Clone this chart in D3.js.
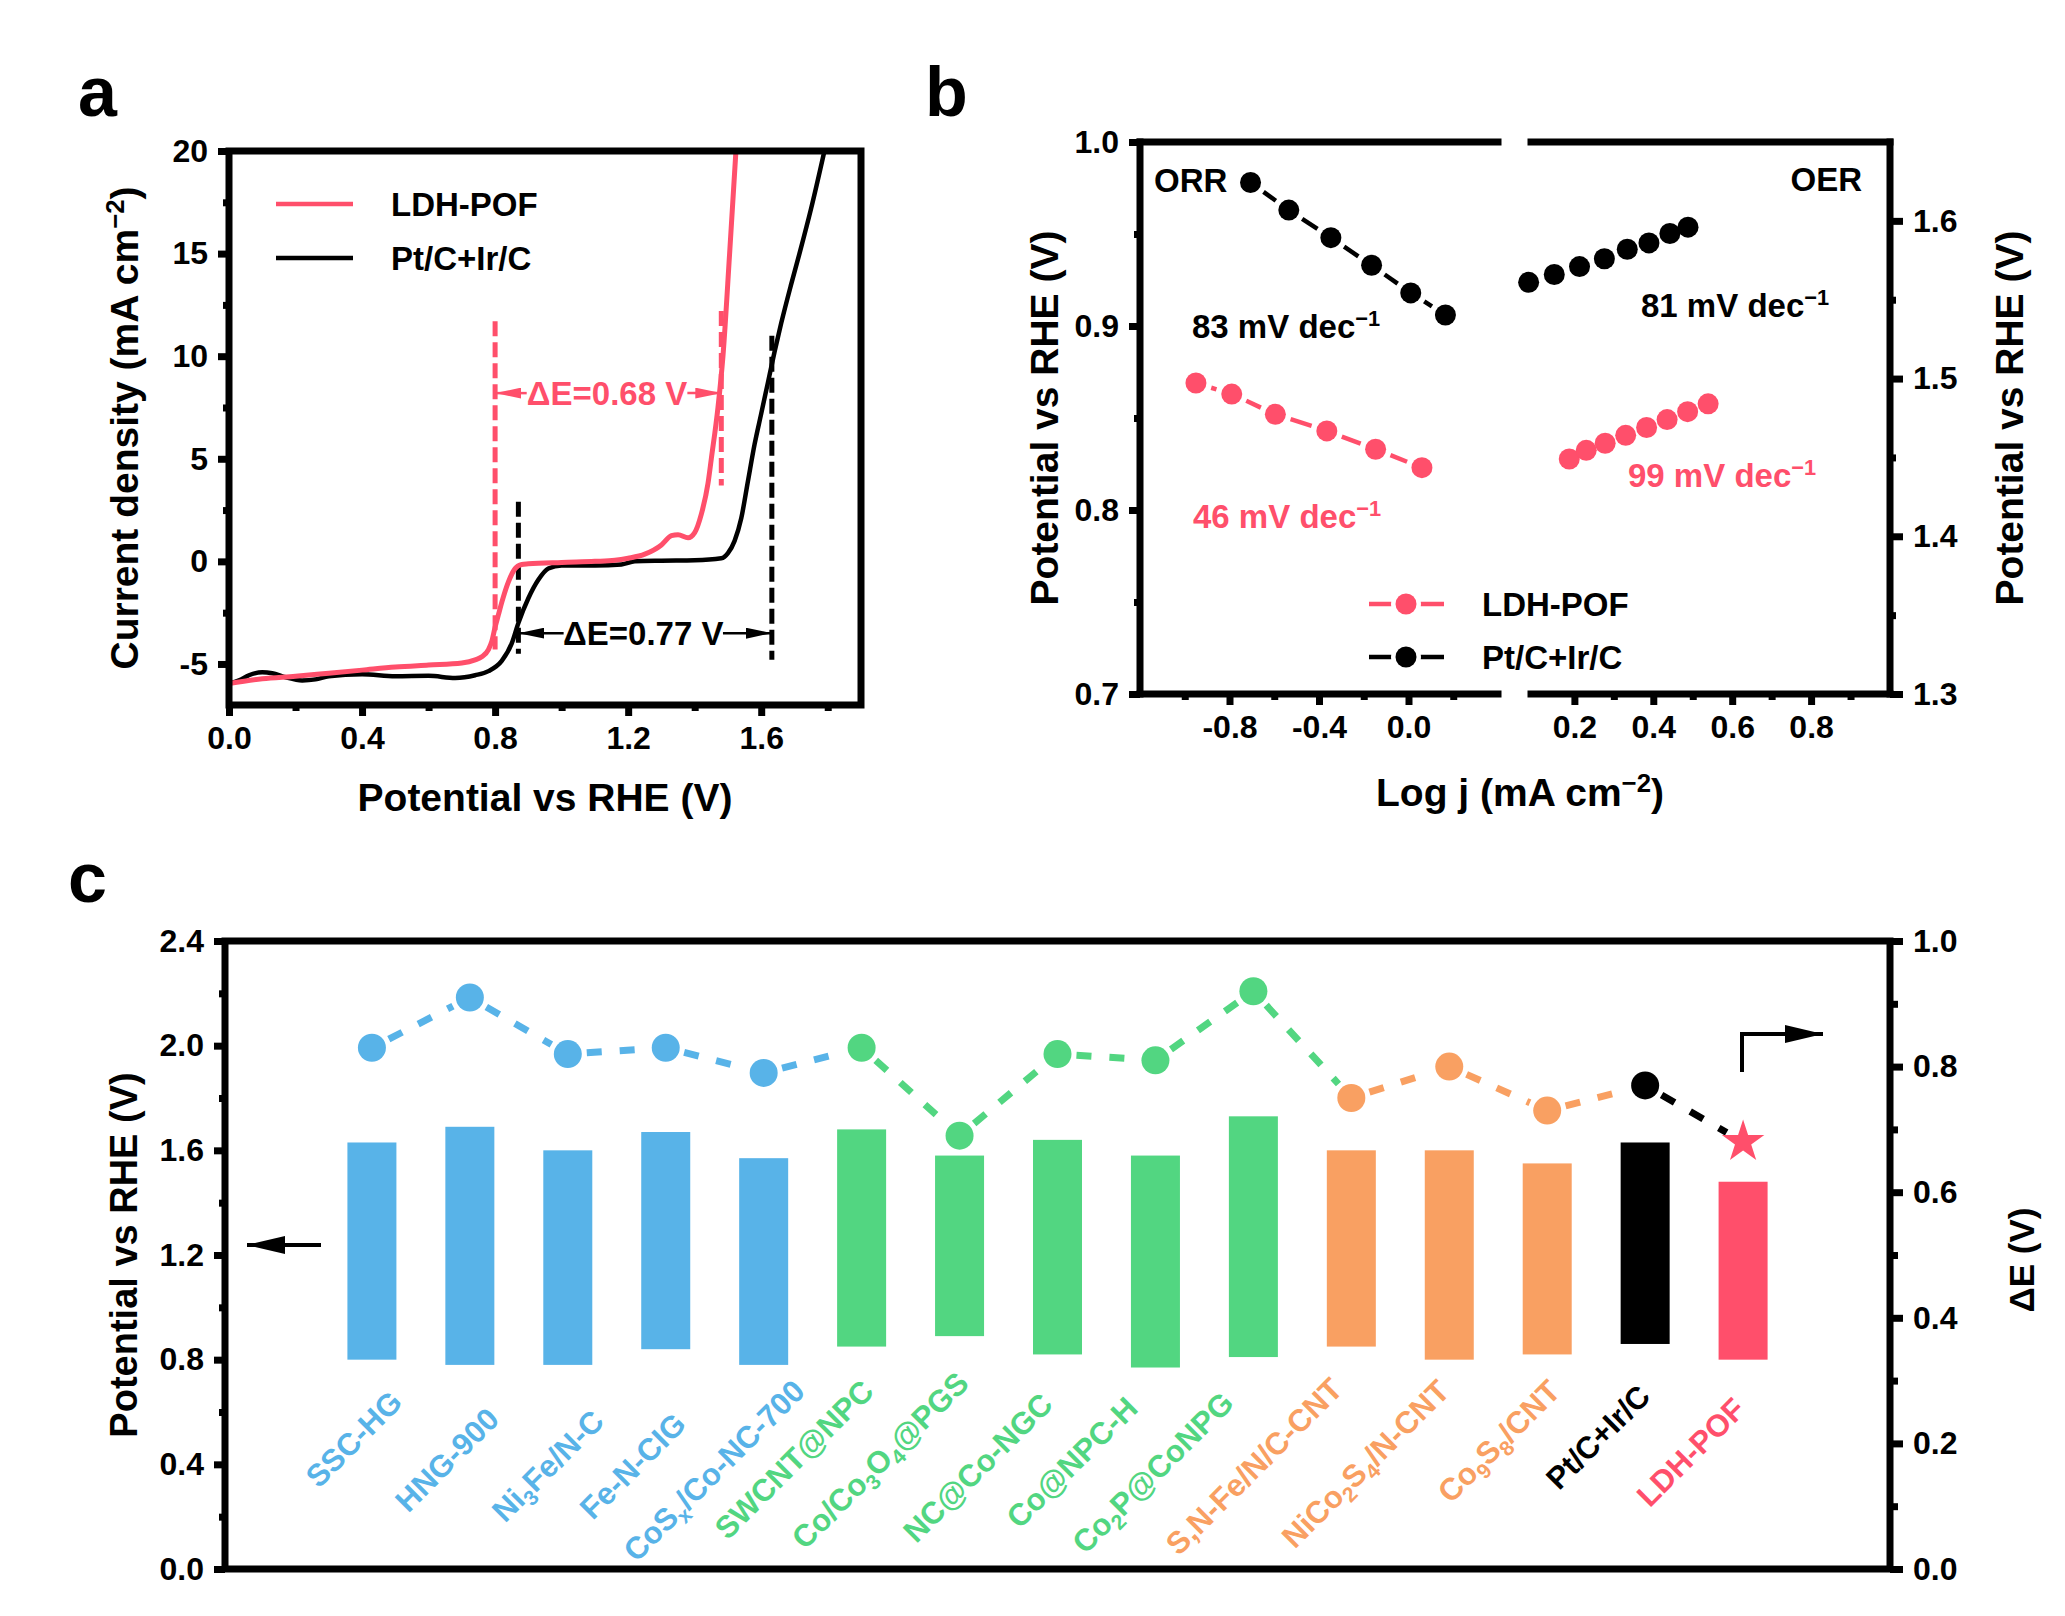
<!DOCTYPE html>
<html>
<head>
<meta charset="utf-8">
<script src="https://d3js.org/d3.v7.min.js"></script>
<style>
  html, body { margin: 0; padding: 0; background: #fff; }
  svg text { font-family: "Liberation Sans", Arial, sans-serif; font-weight: bold; }
</style>
</head>
<body>
<svg id="chart" width="2065" height="1616"></svg>
<script>
// colours
const RED = "#ff4f6b", BLACK = "#000", BLUE = "#58b3e8", GREEN = "#52d681", ORANGE = "#f9a062";

// panel a: polarisation curves [potential, current density]
const ldhCurve = [[0,-5.95],[0.1,-5.72],[0.2,-5.6],[0.3,-5.45],[0.4,-5.3],[0.5,-5.15],[0.6,-5.05],[0.7,-4.95],[0.74,-4.8],[0.76,-4.65],[0.78,-4.3],[0.79,-3.9],[0.8,-3.2],[0.81,-2.6],[0.82,-2],[0.84,-1],[0.86,-0.35],[0.88,-0.15],[0.9,-0.12],[1,-0.05],[1.1,0],[1.16,0.05],[1.2,0.15],[1.25,0.35],[1.3,0.8],[1.33,1.25],[1.35,1.3],[1.38,1.15],[1.4,1.4],[1.42,2.3],[1.44,3.8],[1.45,5],[1.47,7.5],[1.485,10],[1.505,15],[1.524,20]];
const ptCurve = [[0,-5.95],[0.03,-5.8],[0.06,-5.55],[0.1,-5.4],[0.13,-5.45],[0.17,-5.65],[0.22,-5.8],[0.26,-5.75],[0.3,-5.6],[0.4,-5.5],[0.5,-5.6],[0.6,-5.58],[0.68,-5.68],[0.74,-5.55],[0.78,-5.35],[0.82,-4.85],[0.85,-4],[0.87,-3],[0.9,-1.8],[0.93,-0.9],[0.96,-0.35],[1,-0.2],[1.1,-0.2],[1.18,-0.15],[1.22,0],[1.3,0.03],[1.4,0.05],[1.48,0.15],[1.5,0.4],[1.52,1],[1.54,2.1],[1.56,3.9],[1.58,5.7],[1.6,7.2],[1.62,8.7],[1.64,10.2],[1.66,11.6],[1.69,13.5],[1.715,15],[1.75,17.2],[1.79,20]];

// panel b: Tafel points [log j, potential]
const ptOrr = [[-0.706,0.978],[-0.535,0.963],[-0.347,0.948],[-0.165,0.933],[0.01,0.918],[0.165,0.906]];
const ldhOrr = [[-0.95,0.869],[-0.79,0.863],[-0.595,0.852],[-0.365,0.843],[-0.147,0.833],[0.06,0.823]];
const ptOer = [[0.084,1.561],[0.149,1.566],[0.213,1.571],[0.276,1.576],[0.334,1.582],[0.389,1.586],[0.442,1.592],[0.488,1.596]];
const ldhOer = [[0.187,1.449],[0.23,1.4545],[0.278,1.459],[0.33,1.464],[0.383,1.469],[0.435,1.474],[0.487,1.479],[0.539,1.484]];

// panel c: catalysts, "_" marks the subscript
const catalysts = ["SSC-HG","HNG-900","Ni_3Fe/N-C","Fe-N-CIG","CoS_x/Co-NC-700","SWCNT@NPC","Co/Co_3O_4@PGS","NC@Co-NGC","Co@NPC-H","Co_2P@CoNPG","S,N-Fe/N/C-CNT","NiCo_2S_4/N-CNT","Co_9S_8/CNT","Pt/C+Ir/C","LDH-POF"];
const orrPotential = [0.80,0.78,0.78,0.84,0.78,0.85,0.89,0.82,0.77,0.81,0.85,0.80,0.82,0.86,0.80];
const oerPotential = [1.63,1.69,1.60,1.67,1.57,1.68,1.58,1.64,1.58,1.73,1.60,1.60,1.55,1.63,1.48];
const deltaE = [0.83,0.91,0.82,0.83,0.79,0.83,0.69,0.82,0.81,0.92,0.75,0.80,0.73,0.77,0.68];
const catalystColors = [BLUE,BLUE,BLUE,BLUE,BLUE,GREEN,GREEN,GREEN,GREEN,GREEN,ORANGE,ORANGE,ORANGE,BLACK,RED];

const svg = d3.select("#chart");
const TICK_FONT = 32, TITLE_FONT = 38, NOTE_FONT = 33;
const fmt1 = v => d3.format(".1f")(v).replace("\u2212", "-");
const fmt0 = v => d3.format("d")(v).replace("\u2212", "-");

// arrow heads
const defs = svg.append("defs");
[["red", RED, 26, 11], ["black", BLACK, 26, 11], ["big", BLACK, 38, 18]].forEach(([id, c, w, h]) => {
  defs.append("marker").attr("id", "head-" + id)
    .attr("viewBox", "0 0 10 10").attr("refX", 10).attr("refY", 5)
    .attr("markerUnits", "userSpaceOnUse").attr("markerWidth", w).attr("markerHeight", h)
    .attr("orient", "auto").attr("preserveAspectRatio", "none")
    .append("path").attr("d", "M0,0L10,5L0,10Z").attr("fill", c);
});

function drawAxis(axisFn, scale, values, format, g, size, minorSize, minorValues) {
  const major = g.append("g").call(axisFn(scale).tickValues(values).tickFormat(format).tickSize(size).tickPadding(10));
  major.select(".domain").remove();
  major.selectAll("line").attr("stroke", "#000").attr("stroke-width", 7);
  major.selectAll("text").attr("font-size", TICK_FONT).attr("fill", "#000");
  const minor = g.append("g").call(axisFn(scale).tickValues(minorValues).tickFormat("").tickSize(minorSize));
  minor.select(".domain").remove();
  minor.selectAll("line").attr("stroke", "#000").attr("stroke-width", 7);
}

// text with a superscript part
function supText(sel, base, sup, size) {
  sel.append("tspan").text(base);
  sel.append("tspan").text(sup).attr("font-size", size * 0.66).attr("dy", -size * 0.36);
  return sel;
}

function panelLetter(t, x, y) {
  svg.append("text").text(t).attr("x", x).attr("y", y).attr("font-size", 70);
}

// link between two marks, cut short so it stops before the markers
function link(g, x1, y1, x2, y2, color, width, gap, dash) {
  const len = Math.hypot(x2 - x1, y2 - y1);
  if (len <= 2 * gap) return;
  const ux = (x2 - x1) / len, uy = (y2 - y1) / len;
  g.append("line")
    .attr("x1", x1 + ux * gap).attr("y1", y1 + uy * gap)
    .attr("x2", x2 - ux * gap).attr("y2", y2 - uy * gap)
    .attr("stroke", color).attr("stroke-width", width)
    .attr("stroke-dasharray", dash || null);
}

function tafel(g, pts, xs, ys, color) {
  d3.pairs(pts).forEach(([a, b]) => link(g, xs(a[0]), ys(a[1]), xs(b[0]), ys(b[1]), color, 4.5, 16));
  g.selectAll(null).data(pts).enter().append("circle")
    .attr("cx", d => xs(d[0])).attr("cy", d => ys(d[1])).attr("r", 10.5).attr("fill", color);
}

// ---------- panel a ----------
{
  const L = 229, R = 861, T = 151, B = 705;
  const x = d3.scaleLinear().domain([0, 1.9]).range([L, R]);
  const y = d3.scaleLinear().domain([-7, 20]).range([B, T]);
  const g = svg.append("g");

  drawAxis(d3.axisBottom, x, [0, 0.4, 0.8, 1.2, 1.6], fmt1,
    g.append("g").attr("transform", `translate(0,${B})`), 11, 6, [0.2, 0.6, 1.0, 1.4, 1.8]);
  drawAxis(d3.axisLeft, y, [-5, 0, 5, 10, 15, 20], fmt0,
    g.append("g").attr("transform", `translate(${L},0)`), 11, 6, [-2.5, 2.5, 7.5, 12.5, 17.5]);

  // onset guides
  const guides = [[0.8, 11.7, -4.3, RED], [1.48, 12.2, 3.7, RED], [0.87, 2.9, -4.5, BLACK], [1.632, 11, -4.8, BLACK]];
  g.selectAll(null).data(guides).enter().append("line")
    .attr("x1", d => x(d[0])).attr("x2", d => x(d[0]))
    .attr("y1", d => y(d[1])).attr("y2", d => y(d[2]))
    .attr("stroke", d => d[3]).attr("stroke-width", 5).attr("stroke-dasharray", "15 6");

  const line = d3.line().x(d => x(d[0])).y(d => y(d[1])).curve(d3.curveMonotoneX);
  g.append("path").datum(ptCurve).attr("d", line).attr("fill", "none").attr("stroke", BLACK).attr("stroke-width", 4.5);
  g.append("path").datum(ldhCurve).attr("d", line).attr("fill", "none").attr("stroke", RED).attr("stroke-width", 5);

  g.append("rect").attr("x", L).attr("y", T).attr("width", R - L).attr("height", B - T)
    .attr("fill", "none").attr("stroke", "#000").attr("stroke-width", 7);

  // delta E notes
  const notes = [
    { id: "red", c: RED, v: 8.2, a: 0.8, b: 1.48, t1: 0.895, t2: 1.378, label: "\u0394E=0.68 V" },
    { id: "black", c: BLACK, v: -3.5, a: 0.87, b: 1.632, t1: 1.006, t2: 1.485, label: "\u0394E=0.77 V" }
  ];
  notes.forEach(n => {
    [[n.t1, n.a], [n.t2, n.b]].forEach(([from, to]) => {
      g.append("line").attr("x1", x(from)).attr("x2", x(to)).attr("y1", y(n.v)).attr("y2", y(n.v))
        .attr("stroke", n.c).attr("stroke-width", 2.5).attr("marker-end", `url(#head-${n.id})`);
    });
    g.append("text").text(n.label).attr("x", x((n.t1 + n.t2) / 2)).attr("y", y(n.v) + 12)
      .attr("text-anchor", "middle").attr("font-size", NOTE_FONT).attr("fill", n.c);
  });

  // legend
  [["LDH-POF", RED, 204], ["Pt/C+Ir/C", BLACK, 258]].forEach(([name, c, ly]) => {
    g.append("line").attr("x1", 276).attr("x2", 353).attr("y1", ly).attr("y2", ly).attr("stroke", c).attr("stroke-width", 4.5);
    g.append("text").text(name).attr("x", 391).attr("y", ly + 12).attr("font-size", NOTE_FONT);
  });

  g.append("text").text("Potential vs RHE (V)").attr("x", (L + R) / 2).attr("y", 811)
    .attr("text-anchor", "middle").attr("font-size", TITLE_FONT + 1);
  const yt = g.append("text").attr("transform", `translate(138,${(T + B) / 2}) rotate(-90)`)
    .attr("text-anchor", "middle").attr("font-size", TITLE_FONT + 1);
  supText(yt, "Current density (mA cm", "\u22122", TITLE_FONT + 1);
  yt.append("tspan").text(")").attr("dy", (TITLE_FONT + 1) * 0.36);
}

// ---------- panel b ----------
{
  const L = 1140, R = 1890, T = 142, B = 694, BR1 = 1498, BR2 = 1531;
  const xl = d3.scaleLinear().domain([-1.2, 0.4]).range([L, BR1]);
  const xr = d3.scaleLinear().domain([0.09, 1.0]).range([BR2, R]);
  const yl = d3.scaleLinear().domain([0.7, 1.0]).range([B, T]);
  const yr = d3.scaleLinear().domain([1.3, 1.65]).range([B, T]);
  const g = svg.append("g");

  drawAxis(d3.axisBottom, xl, [-0.8, -0.4, 0], fmt1,
    g.append("g").attr("transform", `translate(0,${B})`), 11, 6, [-1.0, -0.6, -0.2, 0.2]);
  drawAxis(d3.axisBottom, xr, [0.2, 0.4, 0.6, 0.8], fmt1,
    g.append("g").attr("transform", `translate(0,${B})`), 11, 6, [0.3, 0.5, 0.7, 0.9]);
  drawAxis(d3.axisLeft, yl, [0.7, 0.8, 0.9, 1.0], fmt1,
    g.append("g").attr("transform", `translate(${L},0)`), 11, 6, [0.75, 0.85, 0.95]);
  drawAxis(d3.axisRight, yr, [1.3, 1.4, 1.5, 1.6], fmt1,
    g.append("g").attr("transform", `translate(${R},0)`), 13, 6, [1.35, 1.45, 1.55]);

  // frame with the gap for the axis break
  const frame = [[L, T, BR1, T], [BR2, T, R, T], [L, B, BR1, B], [BR2, B, R, B], [L, T, L, B], [R, T, R, B]];
  g.selectAll(null).data(frame).enter().append("line")
    .attr("x1", d => d[0]).attr("y1", d => d[1]).attr("x2", d => d[2]).attr("y2", d => d[3])
    .attr("stroke", "#000").attr("stroke-width", 7).attr("stroke-linecap", "square");

  tafel(g, ptOrr, xl, yl, BLACK);
  tafel(g, ldhOrr, xl, yl, RED);
  tafel(g, ptOer, xr, yr, BLACK);
  tafel(g, ldhOer, xr, yr, RED);

  g.append("text").text("ORR").attr("x", 1154).attr("y", 192).attr("font-size", NOTE_FONT);
  g.append("text").text("OER").attr("x", 1862).attr("y", 191).attr("text-anchor", "end").attr("font-size", NOTE_FONT);

  const slopes = [["83 mV dec", 1192, 338, BLACK], ["81 mV dec", 1641, 317, BLACK], ["99 mV dec", 1628, 487, RED], ["46 mV dec", 1193, 528, RED]];
  slopes.forEach(([t, tx, ty, c]) => {
    const s = g.append("text").attr("x", tx).attr("y", ty).attr("font-size", NOTE_FONT).attr("fill", c);
    supText(s, t, "\u22121", NOTE_FONT);
  });

  // legend
  [["LDH-POF", RED, 604], ["Pt/C+Ir/C", BLACK, 657]].forEach(([name, c, ly]) => {
    link(g, 1369, ly, 1444, ly, c, 4.5, 0);
    g.append("circle").attr("cx", 1406).attr("cy", ly).attr("r", 15).attr("fill", "#fff");
    g.append("circle").attr("cx", 1406).attr("cy", ly).attr("r", 10.5).attr("fill", c);
    g.append("text").text(name).attr("x", 1482).attr("y", ly + 12).attr("font-size", NOTE_FONT);
  });

  const xt = g.append("text").attr("x", 1520).attr("y", 806).attr("text-anchor", "middle").attr("font-size", TITLE_FONT + 1);
  supText(xt, "Log j (mA cm", "\u22122", TITLE_FONT + 1);
  xt.append("tspan").text(")").attr("dy", (TITLE_FONT + 1) * 0.36);
  g.append("text").text("Potential vs RHE (V)").attr("transform", `translate(1058,${(T + B) / 2}) rotate(-90)`)
    .attr("text-anchor", "middle").attr("font-size", TITLE_FONT + 1);
  g.append("text").text("Potential vs RHE (V)").attr("transform", `translate(2023,${(T + B) / 2}) rotate(-90)`)
    .attr("text-anchor", "middle").attr("font-size", TITLE_FONT + 1);
}

// ---------- panel c ----------
{
  const L = 225, R = 1890, T = 941, B = 1569;
  const x = d3.scalePoint().domain(d3.range(catalysts.length)).range([L, R]).padding(1.5);
  const yl = d3.scaleLinear().domain([0, 2.4]).range([B, T]);
  const yr = d3.scaleLinear().domain([0, 1]).range([B, T]);
  const g = svg.append("g");
  const barW = 49;

  drawAxis(d3.axisLeft, yl, [0, 0.4, 0.8, 1.2, 1.6, 2.0, 2.4], fmt1,
    g.append("g").attr("transform", `translate(${L},0)`), 11, 6, [0.2, 0.6, 1.0, 1.4, 1.8, 2.2]);
  drawAxis(d3.axisRight, yr, [0, 0.2, 0.4, 0.6, 0.8, 1.0], fmt1,
    g.append("g").attr("transform", `translate(${R},0)`), 13, 8, [0.1, 0.3, 0.5, 0.7, 0.9]);

  g.selectAll(null).data(catalysts).enter().append("rect")
    .attr("x", (d, i) => x(i) - barW / 2).attr("width", barW)
    .attr("y", (d, i) => yl(oerPotential[i]))
    .attr("height", (d, i) => yl(orrPotential[i]) - yl(oerPotential[i]))
    .attr("fill", (d, i) => catalystColors[i]);

  // dashed links take the colour of the point they leave from
  d3.pairs(d3.range(catalysts.length)).forEach(([a, b]) => {
    link(g, x(a), yr(deltaE[a]), x(b), yr(deltaE[b]), catalystColors[a], 7, 19, "15 18");
  });
  deltaE.forEach((v, i) => {
    if (i === catalysts.length - 1) {
      g.append("path").attr("d", d3.symbol(d3.symbolStar, 560)()).attr("fill", RED)
        .attr("transform", `translate(${x(i)},${yr(v)})`);
    } else {
      g.append("circle").attr("cx", x(i)).attr("cy", yr(v)).attr("r", 14).attr("fill", catalystColors[i]);
    }
  });

  g.append("rect").attr("x", L).attr("y", T).attr("width", R - L).attr("height", B - T)
    .attr("fill", "none").attr("stroke", "#000").attr("stroke-width", 7);

  // direction arrows
  g.append("line").attr("x1", 321).attr("x2", 247).attr("y1", 1245).attr("y2", 1245)
    .attr("stroke", BLACK).attr("stroke-width", 4).attr("marker-end", "url(#head-big)");
  g.append("path").attr("d", "M1742,1072V1034H1823").attr("fill", "none")
    .attr("stroke", BLACK).attr("stroke-width", 4).attr("marker-end", "url(#head-big)");

  // rotated labels, nudged by hand like the figure's free text
  const labelNudge = [[37,-21],[36,-4],[43,-2],[27,1],[48,-32],[19,-32],[16,-40],[2,-19],[-11,-15],[-13,-20],[-2,-34],[7,-32],[20,-32],[12,-27],[9,-14]];
  catalysts.forEach((name, i) => {
    const lab = g.append("text").attr("text-anchor", "end").attr("font-size", 31).attr("fill", catalystColors[i])
      .attr("transform", `translate(${x(i) + labelNudge[i][0]},${1430 + labelNudge[i][1]}) rotate(-45)`);
    name.split(/(_.)/).filter(p => p).forEach(p => {
      if (p[0] === "_") lab.append("tspan").text(p[1]).attr("font-size", 21).attr("dy", 7);
      else lab.append("tspan").text(p).attr("dy", lab.selectAll("tspan").size() ? -7 : 0);
    });
  });

  g.append("text").text("Potential vs RHE (V)").attr("transform", `translate(137,${(T + B) / 2}) rotate(-90)`)
    .attr("text-anchor", "middle").attr("font-size", TITLE_FONT);
  g.append("text").text("\u0394E (V)").attr("transform", `translate(2034,1260) rotate(-90)`)
    .attr("text-anchor", "middle").attr("font-size", 35);
}

panelLetter("a", 78, 116);
panelLetter("b", 925, 116);
panelLetter("c", 68, 902);
</script>
</body>
</html>
